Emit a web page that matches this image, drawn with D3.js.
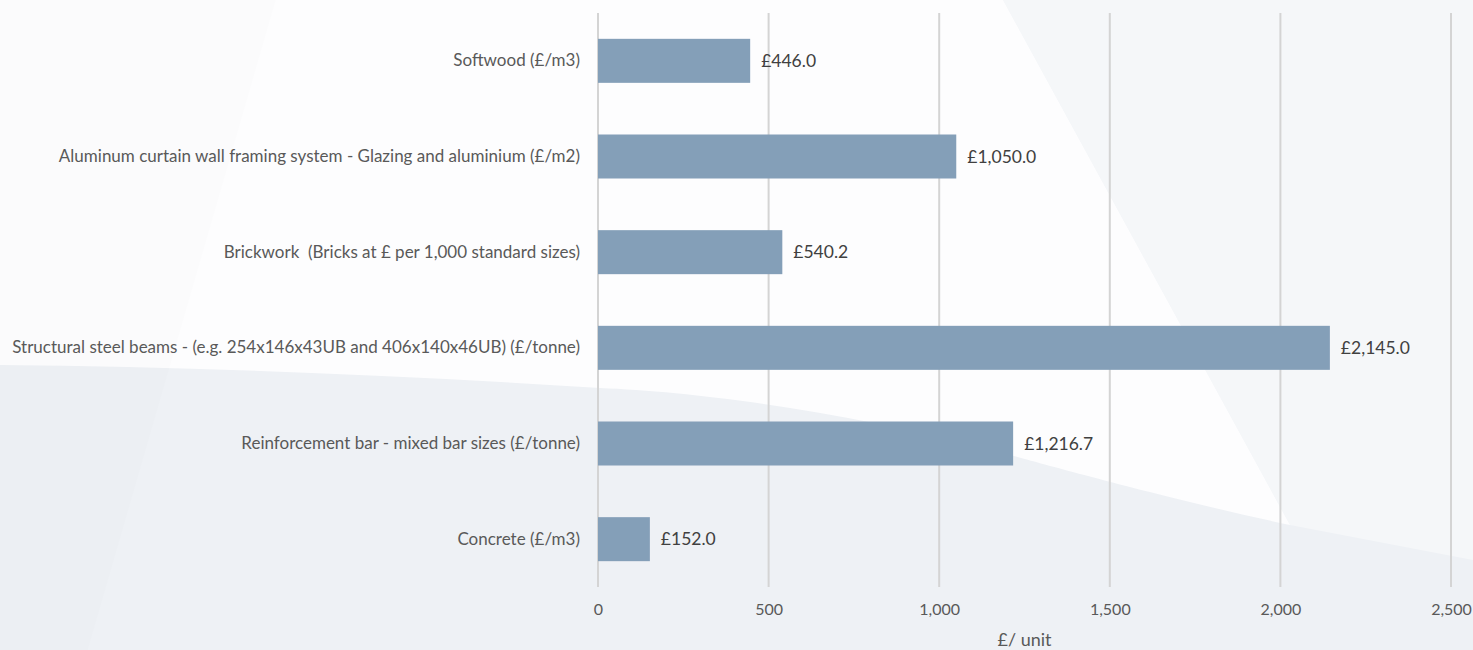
<!DOCTYPE html>
<html><head><meta charset="utf-8">
<script src="https://cdn.jsdelivr.net/npm/d3@7"></script>
<style>html,body{margin:0;padding:0;background:#eff2f5;overflow:hidden} text{white-space:pre}</style>
</head><body>
<svg id="c" width="1473" height="650"></svg>
<script>
const categories = [
  "Softwood (£/m3)",
  "Aluminum curtain wall framing system - Glazing and aluminium (£/m2)",
  "Brickwork  (Bricks at £ per 1,000 standard sizes)",
  "Structural steel beams - (e.g. 254x146x43UB and 406x140x46UB) (£/tonne)",
  "Reinforcement bar - mixed bar sizes (£/tonne)",
  "Concrete (£/m3)"
];
const values = [446.0, 1050.0, 540.2, 2145.0, 1216.7, 152.0];
const xTicks = [0, 500, 1000, 1500, 2000, 2500];
const xTitle = "£/ unit";

const svg = d3.select("#c");
const W = 1473, H = 650;
const m = {left: 598, right: 22, top: 13, bottom: 63};

// background shapes
svg.append("rect").attr("width", W).attr("height", H).attr("fill", "#eef1f5");
svg.append("path")
  .attr("d", "M1003,0 L1473,0 L1473,560 L1290,525 Z")
  .attr("fill", "#f5f7f9");
svg.append("path")
  .attr("d", "M0,0 L1003,0 L1290,525 C1150,495 1000,452 1000,452 C850,412 700,392 600,388 C400,375 200,367 0,365 Z")
  .attr("fill", "#fdfdfe");
svg.append("path")
  .attr("d", "M0,0 L276,0 L88,650 L0,650 Z")
  .attr("fill", "#000").attr("opacity", 0.006);

const x = d3.scaleLinear().domain([0, 2500]).range([m.left, W - m.right]);
const y = d3.scaleBand().domain(categories).range([m.top, H - m.bottom]).paddingInner(0.54).paddingOuter(0.27);

// gridlines
svg.append("g").selectAll("line").data(xTicks).join("line")
  .attr("x1", d => x(d)).attr("x2", d => x(d))
  .attr("y1", m.top).attr("y2", H - m.bottom)
  .attr("stroke", "#d4d4d4").attr("stroke-width", 2);

// x axis labels
const xa = svg.append("g").attr("transform", `translate(0,${H - m.bottom})`)
  .call(d3.axisBottom(x).tickValues(xTicks).tickFormat(d3.format(",")).tickSize(0).tickPadding(17));
xa.select(".domain").remove();
xa.selectAll("text").attr("font-family", "Lato, sans-serif").attr("font-size", 16).attr("fill", "#595959");

// y axis labels
const ya = svg.append("g").attr("transform", `translate(${m.left},0)`)
  .call(d3.axisLeft(y).tickSize(0).tickPadding(18));
ya.select(".domain").remove();
ya.selectAll("text").attr("font-family", "Lato, sans-serif").attr("font-size", 17).attr("fill", "#595959");

// bars
svg.append("g").selectAll("rect").data(values).join("rect")
  .attr("x", x(0)).attr("y", (d, i) => y(categories[i]))
  .attr("width", d => x(d) - x(0)).attr("height", y.bandwidth())
  .attr("fill", "#849fb8");

// value labels
svg.append("g").selectAll("text").data(values).join("text")
  .attr("x", d => x(d) + 11).attr("y", (d, i) => y(categories[i]) + y.bandwidth() / 2)
  .attr("dy", "0.35em")
  .attr("font-family", "Lato, sans-serif").attr("font-size", 17.5).attr("fill", "#404040")
  .text(d => "£" + d3.format(",.1f")(d));

// axis title
svg.append("text").attr("x", (x(0) + x(2500)) / 2).attr("y", 646)
  .attr("text-anchor", "middle")
  .attr("font-family", "Lato, sans-serif").attr("font-size", 18).attr("fill", "#595959")
  .text(xTitle);
</script>
</body></html>
